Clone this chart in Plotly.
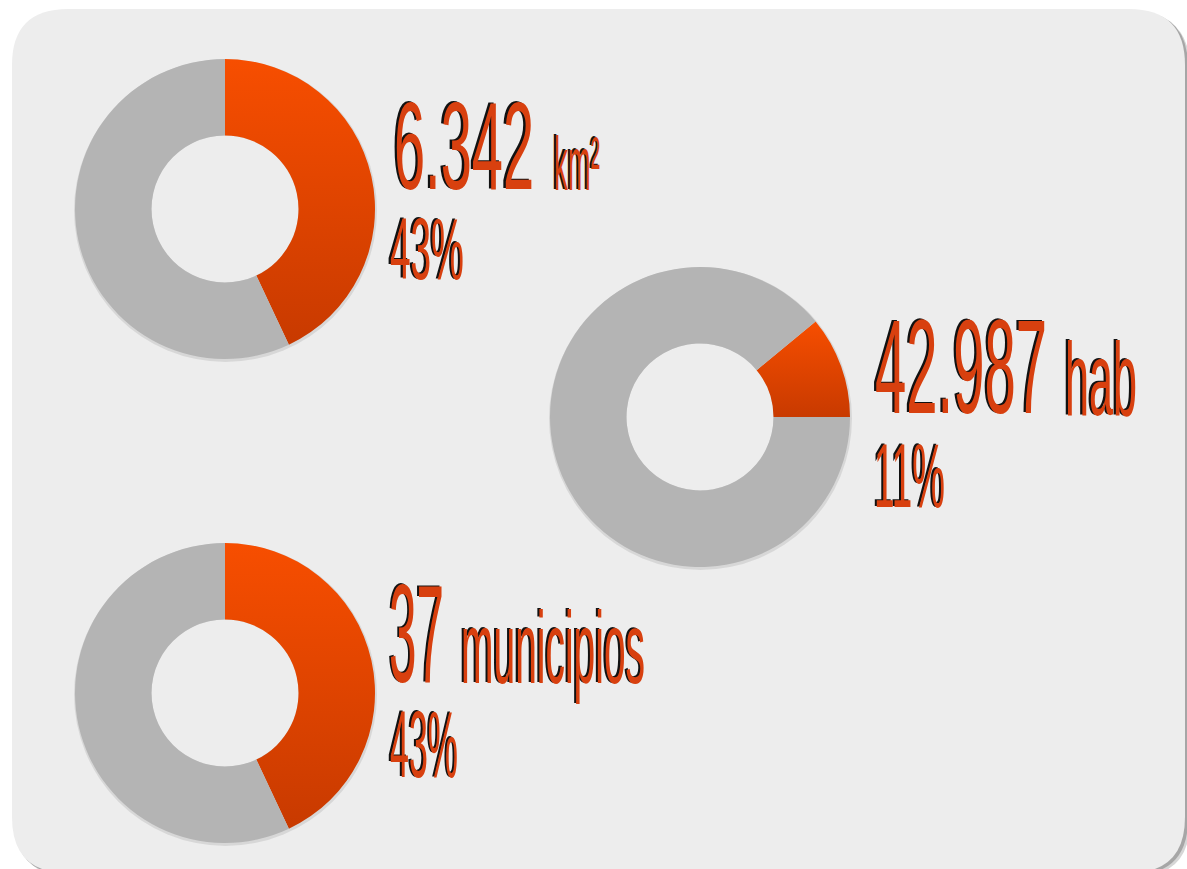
import plotly.graph_objects as go

W, H = 1187, 869

# ---- data ----
share_labels = ["Zona", "Resto"]
area_values = [43, 57]
pop_values = [11, 89]
muni_values = [43, 57]

main_texts = ["6.342", "42.987", "37"]
unit_texts = ["km²", "hab", "municipios"]
pct_texts = ["43%", "11%", "43%"]

ORANGE = "#E04500"
ORANGE_TOP = "#F74E00"
ORANGE_BOT = "#C83A00"
GRAY = "#B4B4B4"
TEXT_OR = "#D8400F"
BG = "#EDEDED"


def px(x):
    return x / W


def py(y):
    return 1 - y / H


fig = go.Figure()

# donut layout: (values, center x, center y, rotation) in pixels
donuts = [
    (area_values, 225, 209, 0),
    (pop_values, 700, 417, 90 - 3.6 * pop_values[0]),
    (muni_values, 225, 693, 0),
]
R = 150
HOLE = 0.49
for vals, cx, cy, rot in donuts:
    fig.add_trace(go.Pie(
        labels=share_labels, values=vals, hole=HOLE, sort=False,
        direction="clockwise", rotation=rot, textinfo="none", hoverinfo="label+percent",
        marker=dict(colors=[ORANGE, GRAY], line=dict(width=0)),
        domain=dict(x=[px(cx - R), px(cx + R)], y=[py(cy + R), py(cy - R)]),
        showlegend=False,
    ))


def rrect(x0, y0, x1, y1, r):
    pts = [
        f"M {px(x0 + r)},{py(y0)}",
        f"L {px(x1 - r)},{py(y0)}",
        f"Q {px(x1)},{py(y0)} {px(x1)},{py(y0 + r)}",
        f"L {px(x1)},{py(y1 - r)}",
        f"Q {px(x1)},{py(y1)} {px(x1 - r)},{py(y1)}",
        f"L {px(x0 + r)},{py(y1)}",
        f"Q {px(x0)},{py(y1)} {px(x0)},{py(y1 - r)}",
        f"L {px(x0)},{py(y0 + r)}",
        f"Q {px(x0)},{py(y0)} {px(x0 + r)},{py(y0)}",
        "Z",
    ]
    return " ".join(pts)


shapes = [
    dict(type="path", xref="paper", yref="paper", layer="below",
         path=rrect(16, 13, 1190, 877, 56), fillcolor="#D6D6D6", line=dict(width=0)),
    dict(type="path", xref="paper", yref="paper", layer="below",
         path=rrect(14, 11, 1188, 875, 56), fillcolor="#A6A6A6", line=dict(width=0)),
    dict(type="path", xref="paper", yref="paper", layer="below",
         path=rrect(12, 9, 1185, 873, 56), fillcolor=BG, line=dict(width=0)),
]
r_in = R * HOLE
for vals, cx, cy, rot in donuts:
    shapes.append(dict(type="circle", xref="paper", yref="paper", layer="below",
                       x0=px(cx - R - 1), x1=px(cx + R + 2), y0=py(cy + R + 3), y1=py(cy - R),
                       fillcolor="rgba(0,0,0,0.09)", line=dict(width=0)))
    shapes.append(dict(type="circle", xref="paper", yref="paper", layer="below",
                       x0=px(cx - r_in), x1=px(cx + r_in), y0=py(cy + r_in), y1=py(cy - r_in),
                       fillcolor=BG, line=dict(width=0)))

# text annotations: (text, left x, middle y, size, target width)
ann_specs = [
    (main_texts[0], 392, 145, 125, 140),
    (unit_texts[0], 552, 163, 76, 46),
    (pct_texts[0], 388, 248, 88, 74),
    (main_texts[1], 873, 367, 133, 172),
    (unit_texts[1], 1063, 379, 103, 72),
    (pct_texts[1], 872, 475, 91, 71),
    (main_texts[2], 387, 633, 140, 55),
    (unit_texts[2], 459, 648, 102, 184),
    (pct_texts[2], 388, 744, 95, 68),
]
annotations = []
for t, x, y, s, _w in ann_specs:
    annotations.append(dict(
        text=t, x=px(x), y=py(y), xref="paper", yref="paper",
        xanchor="left", yanchor="middle", showarrow=False,
        font=dict(family="Liberation Sans Narrow, Liberation Sans, Arial", size=s,
                  color=TEXT_OR, shadow="-4px -1px 0px #111111"),
    ))

fig.update_layout(
    width=W, height=H, margin=dict(l=0, r=0, t=0, b=0),
    paper_bgcolor="white", plot_bgcolor="white",
    shapes=shapes, annotations=annotations,
)

targets = [w for *_r, w in ann_specs]
post = """
(function(){
document.body.style.margin = '0';
document.body.style.overflow = 'hidden';
var gd = document.getElementById('{plot_id}');
var targets = %s;
var NS = 'http://www.w3.org/2000/svg';
function gradient(){
  var svg = gd.querySelector('svg.main-svg');
  if(!svg) return;
  var defs = svg.querySelector('defs');
  if(!defs){ defs = document.createElementNS(NS, 'defs'); svg.insertBefore(defs, svg.firstChild); }
  if(!defs.querySelector('#orangeGrad')){
    var lg = document.createElementNS(NS, 'linearGradient');
    lg.setAttribute('id', 'orangeGrad');
    lg.setAttribute('x1', '0'); lg.setAttribute('y1', '0');
    lg.setAttribute('x2', '0'); lg.setAttribute('y2', '1');
    [['0', '%s'], ['1', '%s']].forEach(function(s){
      var st = document.createElementNS(NS, 'stop');
      st.setAttribute('offset', s[0]); st.setAttribute('stop-color', s[1]);
      lg.appendChild(st);
    });
    defs.appendChild(lg);
  }
  gd.querySelectorAll('.pielayer g.trace').forEach(function(tr){
    var sl = tr.querySelectorAll('g.slice');
    if(sl.length){
      var p = sl[0].querySelector('path.surface');
      if(p) p.style.fill = 'url(#orangeGrad)';
    }
  });
}
function apply(){
  gradient();
  gd.querySelectorAll('g.annotation').forEach(function(g){
    var i = +g.getAttribute('data-index');
    var t = g.querySelector('text.annotation-text');
    if(!t || !targets[i]) return;
    t.style.transform = '';
    var w = t.getBBox().width;
    if(!w) return;
    var s = targets[i] / w;
    t.style.transformBox = 'fill-box';
    t.style.transformOrigin = '0%% 50%%';
    t.style.transform = 'scaleX(' + s + ')';
  });
}
apply();
gd.on && gd.on('plotly_afterplot', apply);
})();
""" % (targets, ORANGE_TOP, ORANGE_BOT)

fig.write_html("out.html", post_script=post, config={"displayModeBar": False})
